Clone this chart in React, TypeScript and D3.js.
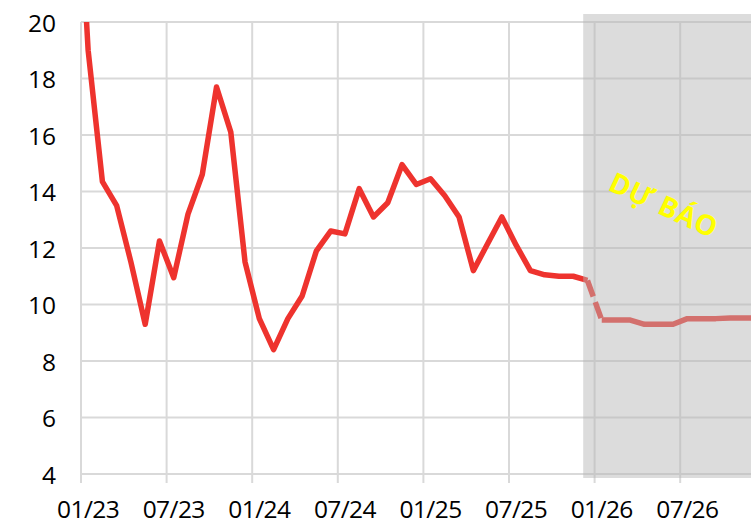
import React from "react";
import * as d3 from "d3";

// ---- data ----
const actualStart = { year: 2022, month: 12 }; // first actual value (Dec 2022, off-chart above 20)
const actualValues = [
  28, 19.0, 14.35, 13.5, 11.5, 9.3, 12.25, 10.95, 13.2, 14.6, 17.7, 16.1, 11.5,
  9.5, 8.4, 9.5, 10.3, 11.9, 12.6, 12.5, 14.1, 13.1, 13.6, 14.95, 14.25,
  14.45, 13.85, 13.1, 11.2, 12.15, 13.1, 12.1, 11.2, 11.05, 11.0, 11.0, 10.85,
];
const forecastStart = { year: 2026, month: 1 };
const forecastValues = [9.45, 9.45, 9.45, 9.3, 9.3, 9.3, 9.5, 9.5, 9.5, 9.52, 9.52, 9.52];
const xTickLabels = ["01/23", "07/23", "01/24", "07/24", "01/25", "07/25", "01/26", "07/26"];
const yTicks = [4, 6, 8, 10, 12, 14, 16, 18, 20];
const forecastLabel = "DỰ BÁO";
const shadeStartMonth = 35.2; // months after Jan 2023 where the forecast shading begins

const W = 751;
const H = 522;
const margin = { left: 81, top: 22, right: 0, bottom: 48 };

const monthIdx = (start: { year: number; month: number }, i: number) =>
  (start.year - 2023) * 12 + (start.month - 1) + i;

export default function App() {
  const x = d3.scaleLinear().domain([0, 6]).range([margin.left, margin.left + 85.6]);
  const y = d3.scaleLinear().domain([4, 20]).range([H - margin.bottom, margin.top]);
  const plotRight = W;
  const red = "#EE332E";

  const actual = actualValues.map((v, i) => ({ m: monthIdx(actualStart, i) + 0.5, v }));
  const forecast = forecastValues.map((v, i) => ({ m: monthIdx(forecastStart, i) + 0.5, v }));
  const connector = [actual[actual.length - 1], forecast[0]];

  const line = d3
    .line<{ m: number; v: number }>()
    .x((d) => x(d.m))
    .y((d) => y(d.v));

  const gridX = xTickLabels.map((_, j) => x(j * 6));
  const font = "'Open Sans', 'Noto Sans', sans-serif";
  const shadeX = x(shadeStartMonth);
  const labelCx = (shadeX + plotRight) / 2 - 3;
  const labelCy = y(13.55);

  return (
    <svg
      width={W}
      height={H}
      style={{ position: "fixed", top: 0, left: 0, background: "#fff" }}
    >
      <defs>
        <clipPath id="plotClip">
          <rect x={margin.left} y={margin.top} width={plotRight - margin.left} height={y(4) - margin.top} />
        </clipPath>
      </defs>
      {/* grid */}
      {yTicks.map((t) => (
        <line key={"h" + t} x1={margin.left} x2={plotRight} y1={y(t)} y2={y(t)} stroke="#d9d9d9" strokeWidth={2} />
      ))}
      {gridX.map((gx, j) => (
        <line key={"v" + j} x1={gx} x2={gx} y1={margin.top} y2={y(4) + 9} stroke="#d9d9d9" strokeWidth={2} />
      ))}
      {/* lines */}
      <g clipPath="url(#plotClip)" fill="none" stroke={red} strokeWidth={5.5} strokeLinejoin="round">
        <path d={line(actual) || ""} />
        <path d={line(connector) || ""} strokeDasharray="17,6" />
        <path d={line(forecast) || ""} />
      </g>
      {/* forecast shading */}
      <rect
        x={shadeX}
        y={margin.top - 8}
        width={plotRight - shadeX}
        height={y(4) + 4 - (margin.top - 8)}
        fill="rgb(180,180,180)"
        fillOpacity={0.47}
      />
      <text
        x={labelCx}
        y={labelCy}
        transform={`rotate(25, ${labelCx}, ${labelCy})`}
        textAnchor="middle"
        dominantBaseline="central"
        fill="#FFFF00"
        fontFamily={font}
        fontWeight={700}
        fontSize={28}
        letterSpacing={0.5}
      >
        {forecastLabel}
      </text>
      {/* y labels */}
      {yTicks.map((t) => (
        <text
          key={"yl" + t}
          x={56}
          y={y(t)}
          textAnchor="end"
          dominantBaseline="central"
          fontFamily={font}
          fontSize={24.5}
          fill="#000"
        >
          {t}
        </text>
      ))}
      {/* x labels */}
      {xTickLabels.map((l, j) => (
        <text
          key={"xl" + l}
          x={x(j * 6 + 0.5)}
          y={508}
          textAnchor="middle"
          dominantBaseline="central"
          fontFamily={font}
          fontSize={24.5}
          letterSpacing={-0.6}
          fill="#000"
        >
          {l}
        </text>
      ))}
    </svg>
  );
}
